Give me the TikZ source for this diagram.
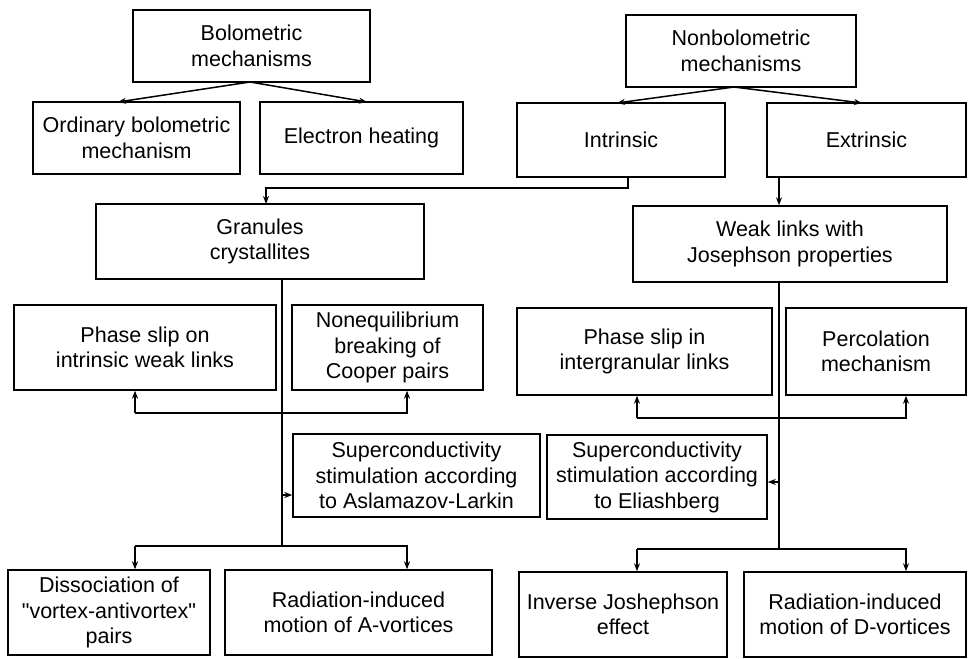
\documentclass[tikz,border=0pt]{standalone}
\usepackage{fontspec}
\setmainfont{Liberation Sans}
\newfontfamily\rawfont{Liberation Sans}
\newcommand{\sq}{{\rawfont\symbol{34}}}
\usetikzlibrary{arrows.meta}
\begin{document}
\begin{tikzpicture}[x=1pt,y=-1pt,
  box/.style={draw,line width=1.5pt,rectangle,align=center,inner sep=2pt,
    font=\fontsize{21.5}{25.5}\selectfont},
  conn/.style={line width=1.5pt},
  arr/.style={line width=1.5pt,-{Stealth[length=8pt,width=6pt]}}]
\useasboundingbox (0,0) rectangle (968,658);
% boxes: (cx,cy), w, h
\node[box,minimum width=237pt,minimum height=72pt] (bolo) at (251.5,46) {Bolometric\\mechanisms};
\node[box,minimum width=207pt,minimum height=72pt] (ord) at (136.5,138) {Ordinary bolometric\\mechanism};
\node[box,minimum width=203pt,minimum height=72pt] (elec) at (361.5,138) {Electron heating};
\node[box,minimum width=230pt,minimum height=72pt] (nonbolo) at (741,51) {Nonbolometric\\mechanisms};
\node[box,minimum width=208pt,minimum height=74pt] (intr) at (621,140) {Intrinsic};
\node[box,minimum width=199pt,minimum height=74pt] (extr) at (866.5,140) {Extrinsic};
\node[box,minimum width=328pt,minimum height=75pt] (gran) at (260,241.5) {Granules\\crystallites};
\node[box,minimum width=314pt,minimum height=76pt] (weak) at (790,244) {Weak links with\\Josephson properties};
\node[box,minimum width=262pt,minimum height=85pt] (ps1) at (145,347.5) {Phase slip on\\intrinsic weak links};
\node[box,minimum width=191pt,minimum height=85pt] (neq) at (387.5,347.5) {Nonequilibrium\\breaking of\\Cooper pairs};
\node[box,minimum width=255pt,minimum height=87pt] (ps2) at (644.5,351.5) {Phase slip in\\intergranular links};
\node[box,minimum width=180pt,minimum height=87pt] (perc) at (876,351.5) {Percolation\\mechanism};
\node[box,minimum width=247pt,minimum height=83pt] (al) at (416.5,475.5) {Superconductivity\\stimulation according\\to Aslamazov-Larkin};
\node[box,minimum width=220pt,minimum height=84pt] (el) at (657,477) {Superconductivity\\stimulation according\\to Eliashberg};
\node[box,minimum width=202pt,minimum height=85pt] (diss) at (109,612.5) {Dissociation of\\\sq vortex-antivortex\sq\\pairs};
\node[box,minimum width=267pt,minimum height=85pt] (radA) at (358.5,612.5) {Radiation-induced\\motion of A-vortices};
\node[box,minimum width=208pt,minimum height=85pt] (inv) at (623,614.5) {Inverse Joshephson\\effect};
\node[box,minimum width=222pt,minimum height=85pt] (radD) at (855,614.5) {Radiation-induced\\motion of D-vortices};
% coordinates
\coordinate (bb) at (250,82);
\coordinate (nb) at (734,87);
\coordinate (gv) at (282,546);
\coordinate (wv) at (779,549);
% top level arrows
\draw[arr] (bb) -- (118,102);
\draw[arr] (bb) -- (367,102);
\draw[arr] (nb) -- (617,103);
\draw[arr] (nb) -- (862,103);
% intrinsic -> granules
\draw[arr] (intr.south -| 628,0) |- (266,188) -- (266,204);
% extrinsic -> weak links
\draw[arr] (extr.south -| 779,0) -- (weak.north -| 779,0);
% granules trunk
\draw[conn] (gran.south -| 282,0) -- (gv);
\draw[arr] (135,413) -- (ps1.south -| 135,0);
\draw[arr] (135,413) -- (407,413) -- (neq.south -| 407,0);
\draw[arr] (282,495) -- (al.west |- 0,495);
\draw[arr] (135,546) -- (diss.north -| 135,0);
\draw[arr] (135,546) -- (407,546) -- (radA.north -| 407,0);
% weak links trunk
\draw[conn] (weak.south -| 779,0) -- (wv);
\draw[arr] (637,418) -- (ps2.south -| 637,0);
\draw[arr] (637,418) -- (906,418) -- (perc.south -| 906,0);
\draw[arr] (779,482) -- (el.east |- 0,482);
\draw[arr] (637,549) -- (inv.north -| 637,0);
\draw[arr] (637,549) -- (906,549) -- (radD.north -| 906,0);
\end{tikzpicture}
\end{document}
